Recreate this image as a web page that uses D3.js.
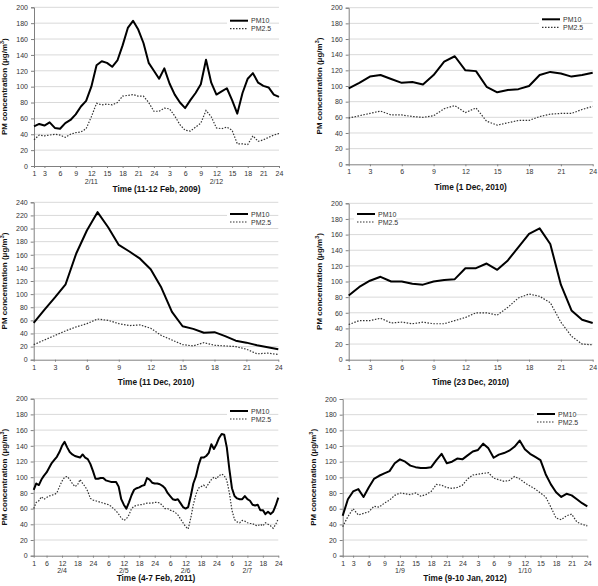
<!DOCTYPE html>
<html><head><meta charset="utf-8">
<script src="https://cdn.jsdelivr.net/npm/d3@7"></script>
<style>body{margin:0;background:#fff}svg{display:block}</style>
</head><body>
<svg id="c" width="598" height="586"></svg>
<script>
// ---------- DATA ----------
const pm10_feb2009 = [50,53,51,55,48,47,54,58,65,75,82,100,127,132,130,125,133,152,174,183,172,155,130,120,110,123,104,90,80,73,83,92,103,134,105,90,94,98,83,66,92,110,117,105,101,99,90,87];
const pm25_feb2009 = [33,39,38,39,40,39,36,40,42,43,47,62,79,77,78,77,80,88,89,90,88,88,80,69,69,73,72,63,52,45,44,49,54,70,62,48,47,49,45,28,28,27,38,31,33,36,39,41];

const pm10_dec1 = [97,104,112,114,109,104,105,102,114,131,138,120,119,99,92,95,96,100,114,118,116,112,114,117];
const pm25_dec1 = [59,62,65,68,63,63,61,60,62,71,75,66,72,55,50,53,56,56,61,64,65,65,70,74];

const pm10_dec11 = [56,76,95,115,162,197,225,202,175,165,154,138,110,73,51,47,41,42,36,29,26,22,19,16];
const pm25_dec11 = [23,30,37,44,50,55,62,60,55,52,53,48,37,30,23,21,26,22,21,20,16,9,10,8];

const pm10_dec23 = [82,93,101,106,100,100,97,96,100,102,103,117,117,123,115,127,144,161,168,148,96,63,51,47];
const pm25_dec23 = [45,50,50,53,47,48,46,48,46,46,50,54,60,60,57,67,79,84,81,73,48,30,20,19];

const pm10_feb2011 = [84,92,90,97,102,106,112,118,122,126,132,140,145,138,132,129,127,126,125,129,125,123,117,108,
  98,98,99,99,96,95,94,94,94,88,72,65,60,68,77,84,86,87,89,90,99,97,93,92,
  92,91,89,86,80,76,72,71,72,67,62,60,62,76,92,101,115,125,125,127,131,142,136,142,
  150,155,154,138,110,86,76,73,72,72,76,72,70,65,64,65,58,58,53,56,53,56,64,74];
const pm25_feb2011 = [60,68,70,75,72,74,76,77,78,80,88,95,100,101,97,92,88,90,97,92,88,82,73,71,
  70,69,68,67,66,65,63,60,57,53,48,45,47,52,60,63,64,65,65,66,67,67,67,68,
  68,67,64,60,60,58,57,55,52,47,42,37,34,48,65,78,86,88,90,87,92,97,100,98,
  102,104,102,96,80,58,46,43,42,45,44,42,41,41,39,38,40,38,42,40,38,35,40,47];

const pm10_jan2012 = [51,72,82,85,75,87,98,102,105,108,118,123,120,115,113,112,112,113,122,130,118,120,124,123,
  128,133,135,143,137,125,129,131,134,139,147,136,130,126,122,104,91,81,75,79,77,72,67,63];
const pm25_jan2012 = [37,50,60,52,54,56,63,62,67,71,77,80,79,78,80,76,78,82,91,90,87,86,87,90,
  98,103,104,105,106,99,97,95,96,101,98,93,89,85,80,75,62,48,46,51,53,43,40,38];

const ticks24 = [1,3,6,9,12,15,18,21,24];
const tickLabels24 = ["1","3","6","9","12","15","18","21","24"];
const ticks48 = [1,3,6,9,12,15,18,21,24,27,30,33,36,39,42,45,48];
const tickLabels48 = ["1","3","6","9","12","15","18","21","24","3","6","9","12","15","18","21","24"];
const ticks96 = [1,6,12,18,24,30,36,42,48,54,60,66,72,78,84,90,96];
const tickLabels96 = ["1","6","12","18","24","6","12","18","24","6","12","18","24","6","12","18","24"];

const dates_feb2009 = [[12,"2/11"],[36,"2/12"]];
const dates_feb2011 = [[12,"2/4"],[36,"2/5"],[60,"2/6"],[84,"2/7"]];
const dates_jan2012 = [[12,"1/9"],[36,"1/10"]];

const titles = ["Time (11-12 Feb, 2009)","Time (1 Dec, 2010)","Time (11 Dec, 2010)","Time (23 Dec, 2010)","Time (4-7 Feb, 2011)","Time (9-10 Jan, 2012)"];
const seriesNames = ["PM10","PM2.5"];

// ---------- DRAW ----------
const svg = d3.select("#c");
const FONT = "Arial, 'Liberation Sans', sans-serif";

const panels = [
  {pm10:pm10_feb2009, pm25:pm25_feb2009, ticks:ticks48, labels:tickLabels48, dates:dates_feb2009, ymax:200, title:titles[0],
   box:[34,279,7.3,166], leg:[230,20.7]},
  {pm10:pm10_dec1, pm25:pm25_dec1, ticks:ticks24, labels:tickLabels24, dates:[], ymax:200, title:titles[1],
   box:[348.7,592.7,7.7,164.3], leg:[542,19.3]},
  {pm10:pm10_dec11, pm25:pm25_dec11, ticks:ticks24, labels:tickLabels24, dates:[], ymax:240, title:titles[2],
   box:[33.7,278.3,202.3,359.7], leg:[230,214]},
  {pm10:pm10_dec23, pm25:pm25_dec23, ticks:ticks24, labels:tickLabels24, dates:[], ymax:200, title:titles[3],
   box:[348.7,592.7,203.3,359.7], leg:[357,214]},
  {pm10:pm10_feb2011, pm25:pm25_feb2011, ticks:ticks96, labels:tickLabels96, dates:dates_feb2011, ymax:200, title:titles[4],
   box:[33.7,278.3,398.7,555.7], leg:[230,411]},
  {pm10:pm10_jan2012, pm25:pm25_jan2012, ticks:ticks48, labels:tickLabels48, dates:dates_jan2012, ymax:200, title:titles[5],
   box:[342.7,587.3,399,555.7], leg:[537,414]}
];

panels.forEach(p => {
  const [L,R,T,B] = p.box;
  const n = p.pm10.length;
  const x = d3.scaleLinear().domain([1,n]).range([L,R]);
  const y = d3.scaleLinear().domain([0,p.ymax]).range([B,T]);
  const g = svg.append("g");
  const yt = d3.range(0, p.ymax+1, 20);

  g.selectAll(".grid").data(yt.filter(v=>v>0)).join("line")
    .attr("x1",L).attr("x2",R).attr("y1",d=>y(d)).attr("y2",d=>y(d))
    .attr("stroke","#d9d9d9").attr("stroke-width",1);

  const ya = g.append("g").attr("transform",`translate(${L},0)`)
    .call(d3.axisLeft(y).tickValues(yt).tickSize(3).tickPadding(3));
  ya.select(".domain").attr("stroke","#808080");
  ya.selectAll(".tick line").attr("stroke","#808080");
  ya.selectAll("text").attr("font-family",FONT).attr("font-size",7).attr("fill","#333");

  const xa = g.append("g").attr("transform",`translate(0,${B})`)
    .call(d3.axisBottom(x).tickValues(p.ticks).tickFormat((d,i)=>p.labels[i]).tickSize(2).tickPadding(3).tickSizeOuter(0));
  xa.select(".domain").attr("stroke","#808080");
  xa.selectAll(".tick line").attr("stroke","#808080");
  xa.selectAll("text").attr("font-family",FONT).attr("font-size",7).attr("fill","#333");

  g.selectAll(".dl").data(p.dates).join("text")
    .attr("x",d=>x(d[0])).attr("y",B+17.5).attr("text-anchor","middle")
    .attr("font-family",FONT).attr("font-size",7).attr("fill","#333").text(d=>d[1]);

  g.append("text").attr("x",(L+R)/2).attr("y",B+25.5).attr("text-anchor","middle")
    .attr("font-family",FONT).attr("font-size",8.3).attr("font-weight","bold").attr("fill","#111")
    .text(p.title);

  const yc = (T+B)/2, xc = L-27;
  const tt = g.append("text").attr("transform",`translate(${xc},${yc}) rotate(-90)`)
    .attr("text-anchor","middle").attr("font-family",FONT).attr("font-size",8)
    .attr("font-weight","bold").attr("fill","#111");
  tt.append("tspan").text("PM concentration (\u03bcg/m");
  tt.append("tspan").attr("font-size",5.5).attr("dy",-3).text("3");
  tt.append("tspan").attr("dy",3).text(")");

  const line = d3.line().x((d,i)=>x(i+1)).y(d=>y(d));
  g.append("path").datum(p.pm25).attr("d",line).attr("fill","none")
    .attr("stroke","#333").attr("stroke-width",1.2).attr("stroke-dasharray","1.5,1.5");
  g.append("path").datum(p.pm10).attr("d",line).attr("fill","none")
    .attr("stroke","#000").attr("stroke-width",2).attr("stroke-linejoin","round");

  const [lx,ly] = p.leg;
  g.append("rect").attr("x",lx-3).attr("y",ly-6).attr("width",42).attr("height",15).attr("fill","#fff");
  const styles = [{w:2,c:"#000",da:null},{w:1.2,c:"#333",da:"1.5,1.5"}];
  seriesNames.forEach((s,i)=>{
    const yy = ly + i*8;
    g.append("line").attr("x1",lx).attr("x2",lx+18).attr("y1",yy).attr("y2",yy)
      .attr("stroke",styles[i].c).attr("stroke-width",styles[i].w).attr("stroke-dasharray",styles[i].da);
    g.append("text").attr("x",lx+21).attr("y",yy+2.5).attr("font-family",FONT).attr("font-size",7)
      .attr("fill","#333").text(s);
  });
});
</script>
</body></html>
